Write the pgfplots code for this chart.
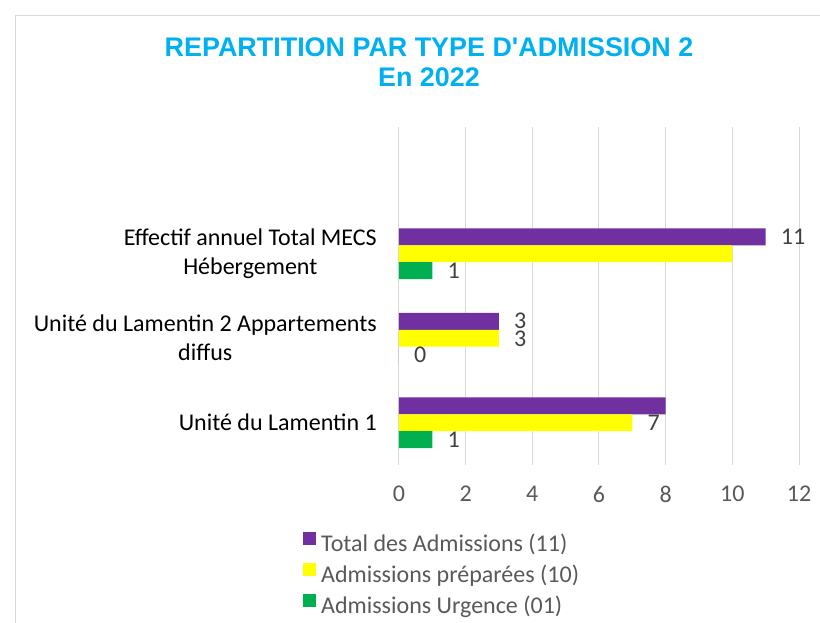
\documentclass[border=0pt]{standalone}
\usepackage{pgfplots}
\pgfplotsset{compat=1.18}
\usepackage{fontspec}
\setmainfont{Carlito}
\newfontfamily\titlefont{Liberation Sans}
\definecolor{cpurple}{HTML}{7030A0}
\definecolor{cyellow}{HTML}{FFFF00}
\definecolor{cgreen}{HTML}{00B050}
\definecolor{ctitle}{HTML}{00B0F0}
\definecolor{cgrid}{HTML}{D9D9D9}
\definecolor{ctick}{HTML}{595959}
\definecolor{clabel}{HTML}{404040}
\begin{document}
\begin{tikzpicture}[x=1pt,y=1pt]
\path[use as bounding box] (0,0) rectangle (820,622);
\draw[cgrid, line width=1pt] (15,-20) -- (15,606) -- (840,606);
\node[font=\titlefont\bfseries\fontsize{26.9}{30}\selectfont, text=ctitle, align=center] at (429,560) {REPARTITION PAR TYPE D'ADMISSION 2\\En 2022};
\begin{axis}[
  at={(399pt,157pt)}, anchor=south west,
  scale only axis, width=400pt, height=338pt,
  xmin=0, xmax=12, ymin=-0.5, ymax=3.5,
  xtick={0,2,...,12},
  ytick={0,1,2},
  yticklabels={Unité du Lamentin 1, {Unité du Lamentin 2 Appartements\\diffus}, {Effectif annuel Total MECS\\Hébergement}},
  yticklabel style={align=center, font=\fontsize{24}{29}\selectfont, text=black, inner sep=0pt, xshift=-22pt},
  xticklabel style={font=\fontsize{24}{28}\selectfont, text=ctick, inner sep=0pt, yshift=-21pt},
  xmajorgrids, grid style={cgrid, line width=1pt},
  axis line style={draw=none}, tick style={draw=none},
  /pgf/number format/assume math mode=true,
  legend style={at={(-0.24,-0.198)}, anchor=north west, draw=none, fill=none, inner sep=0pt,
    font=\fontsize{24}{28}\selectfont, text=ctick, row sep=7pt,
    nodes={inner sep=0pt, text height=17pt, text depth=5pt},
    /tikz/every odd column/.append style={column sep=5pt}},
  legend cell align=left,
  legend image code/.code={\fill[#1] (0pt,0pt) rectangle (13pt,13pt);},
  nodes near coords style={anchor=west, inner sep=0pt, xshift=15pt, font=\fontsize{24}{28}\selectfont, text=clabel},
]
\addplot[xbar, bar width=0.2, bar shift=0.2, fill=cpurple, draw=none] coordinates {(11,2) (3,1) (8,0)};
\addlegendentry{Total des Admissions (11)}
\addplot[xbar, bar width=0.2, bar shift=0, fill=cyellow, draw=none] coordinates {(10,2) (3,1) (7,0)};
\addlegendentry{Admissions préparées (10)}
\addplot[xbar, bar width=0.2, bar shift=-0.2, fill=cgreen, draw=none] coordinates {(1,2) (0,1) (1,0)};
\addlegendentry{Admissions Urgence (01)}
% data labels (as displayed in the reference), at the centre of each bar
\addplot[only marks, mark=none, forget plot, nodes near coords, point meta=explicit symbolic] coordinates {(11,2.2) [11] (3,1.21) [3] (3,0.99) [3] (7,0.0) [7] (1,1.8) [1] (0,0.8) [0] (1,-0.2) [1]};
\end{axis}
\end{tikzpicture}
\end{document}
